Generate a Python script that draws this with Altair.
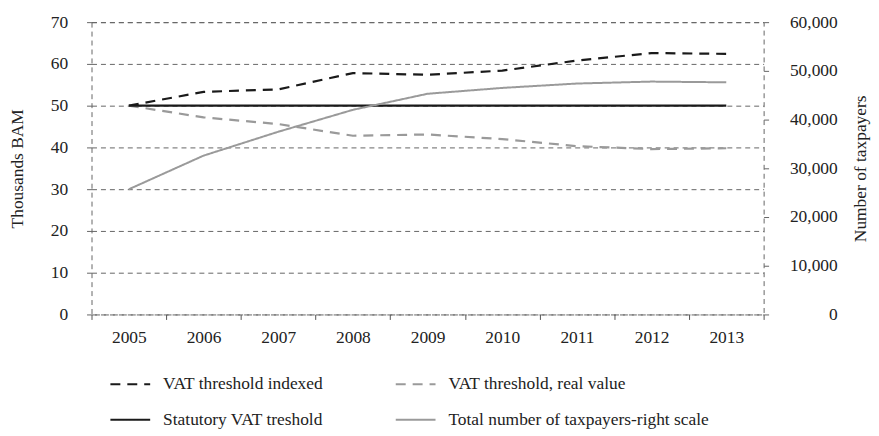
import altair as alt
import pandas as pd

years = ["2005", "2006", "2007", "2008", "2009", "2010", "2011", "2012", "2013"]
indexed = [50.0, 53.3, 53.9, 57.8, 57.4, 58.4, 60.8, 62.6, 62.4]
real_value = [50.0, 47.2, 45.6, 42.8, 43.1, 42.0, 40.3, 39.6, 39.8]
statutory = [50.0, 50.0, 50.0, 50.0, 50.0, 50.0, 50.0, 50.0, 50.0]
taxpayers = [25700, 32600, 37500, 42000, 45300, 46500, 47400, 47800, 47650]

series_names = [
    "VAT threshold indexed",
    "VAT threshold, real value",
    "Statutory VAT treshold",
    "Total number of taxpayers-right scale",
]
series_colors = ["#1a1a1a", "#9a9a9a", "#1a1a1a", "#9a9a9a"]
series_dash = [[10, 7], [10, 7], [1, 0], [1, 0]]

left_rows = []
for name, vals in zip(series_names[:3], [indexed, real_value, statutory]):
    for y, v in zip(years, vals):
        left_rows.append({"year": y, "series": name, "value": v})
left_df = pd.DataFrame(left_rows)
right_df = pd.DataFrame({"year": years, "series": series_names[3], "value": taxpayers})

FONT = "Liberation Serif"

x_enc = alt.X(
    "year:O",
    scale=alt.Scale(type="band", paddingInner=0, paddingOuter=0, domain=years),
    bandPosition=0.5,
    axis=alt.Axis(
        title=None, tickBand="extent", labelAngle=0, grid=False, domain=False,
        tickSize=5, tickColor="#555", labelPadding=9, labelFontSize=17.5,
        labelColor="#222", labelFont=FONT,
    ),
)

legend_kw = dict(
    title=None, orient="none", legendX=18, legendY=343, columns=2,
    direction="horizontal",
    symbolType="stroke", symbolSize=1600, symbolStrokeWidth=2,
    labelFontSize=17.5, labelColor="#222", labelLimit=400, labelFont=FONT,
    columnPadding=68, rowPadding=6, labelOffset=12,
)

color_enc = alt.Color(
    "series:N",
    scale=alt.Scale(domain=series_names, range=series_colors),
    legend=alt.Legend(**legend_kw),
)
dash_enc = alt.StrokeDash(
    "series:N",
    scale=alt.Scale(domain=series_names, range=series_dash),
    legend=alt.Legend(**legend_kw),
)

left = alt.Chart(left_df).mark_line(strokeWidth=2.2).encode(
    x=x_enc,
    y=alt.Y(
        "value:Q",
        scale=alt.Scale(domain=[0, 70], nice=False),
        axis=alt.Axis(
            title="Thousands BAM", values=[0, 10, 20, 30, 40, 50, 60, 70],
            grid=True, gridDash=[5, 4], gridColor="#666", gridWidth=1,
            domain=False, tickSize=8, tickColor="#666", tickDash=[5, 4],
            labelPadding=16, labelFontSize=17.5, labelColor="#222", labelFont=FONT,
            titleFont=FONT, titleFontSize=17.5, titleFontWeight="normal",
            titleColor="#222", titlePadding=24,
        ),
    ),
    color=color_enc,
    strokeDash=dash_enc,
)

right = alt.Chart(right_df).mark_line(strokeWidth=2).encode(
    x=x_enc,
    y=alt.Y(
        "value:Q",
        scale=alt.Scale(domain=[0, 60000], nice=False),
        axis=alt.Axis(
            orient="right", title="Number of taxpayers",
            values=[0, 10000, 20000, 30000, 40000, 50000, 60000], format=",.0f",
            grid=False, domain=False, tickSize=5, tickColor="#666",
            labelAlign="right", labelPadding=69, labelFontSize=17.5,
            labelColor="#222", labelFont=FONT,
            titleFont=FONT, titleFontSize=17.5, titleFontWeight="normal",
            titleColor="#222", titleAngle=270, titleX=97, titleY=147,
            titleAlign="center", titleBaseline="middle",
        ),
    ),
    color=color_enc,
    strokeDash=dash_enc,
)

chart = (
    alt.layer(left, right)
    .resolve_scale(y="independent")
    .properties(
        width=676, height=294,
        autosize=alt.AutoSizeParams(type="none"),
        padding={"left": 84, "top": 13, "right": 108, "bottom": 118},
    )
    .configure(font=FONT)
    .configure_view(stroke="#666", strokeDash=[5, 4], strokeWidth=1)
)

chart.save("out.html", embed_options={"renderer": "svg", "actions": False})
